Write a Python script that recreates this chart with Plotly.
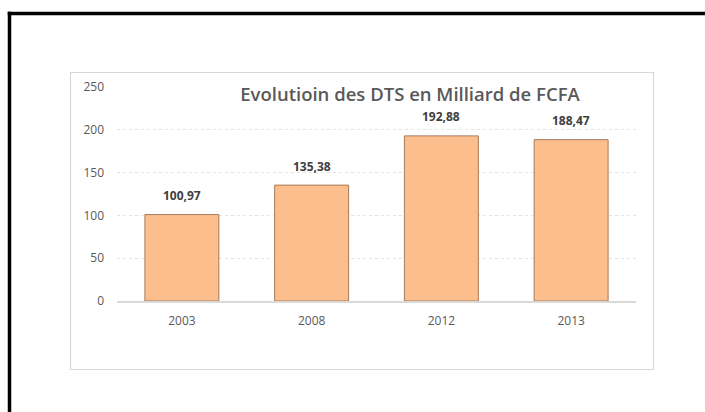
import plotly.graph_objects as go

categories = ["2003", "2008", "2012", "2013"]
values = [100.97, 135.38, 192.88, 188.47]
y_ticks = [0, 50, 100, 150, 200, 250]
title_text = "Evolutioin des DTS en Milliard de FCFA"

labels = [f"{v:.2f}".replace(".", ",") for v in values]

W, H = 705, 412
L, R, T, B = 117, 69, 87, 111
pw, ph = W - L - R, H - T - B

def px(x):
    return (x - L) / pw

def py(y):
    return (H - B - y) / ph

fig = go.Figure()
fig.add_trace(go.Bar(
    x=categories, y=values, width=0.57,
    marker=dict(color="#FCBE8D", line=dict(color="#A87A58", width=1)),
    hoverinfo="skip",
))

for i, (v, t) in enumerate(zip(values, labels)):
    fig.add_annotation(x=i, y=v, text=f"<b>{t}</b>", showarrow=False,
                       yanchor="middle", yshift=19,
                       font=dict(family="Open Sans", size=12, color="#404040"))

frame = dict(color="black", width=3.5)
shapes = [
    # outer black frame: left and top edges (others are cropped in the reference)
    dict(type="line", xref="paper", yref="paper",
         x0=px(9.5), x1=px(9.5), y0=py(11.75), y1=py(412), line=frame, layer="below"),
    dict(type="line", xref="paper", yref="paper",
         x0=px(7.75), x1=px(705), y0=py(13.5), y1=py(13.5), line=frame, layer="below"),
    # inner chart box
    dict(type="rect", xref="paper", yref="paper",
         x0=px(70.5), x1=px(653.5), y0=py(72.5), y1=py(369.5),
         line=dict(color="#D9D9D9", width=1.2), fillcolor="rgba(0,0,0,0)", layer="below"),
]

fig.update_layout(
    width=W, height=H,
    margin=dict(l=L, r=R, t=T, b=B),
    paper_bgcolor="white", plot_bgcolor="white",
    showlegend=False,
    shapes=shapes,
    title=dict(text=title_text, xref="paper", x=px(410), xanchor="center",
               yref="container", y=1 - 95 / H, yanchor="middle",
               font=dict(family="Open Sans", size=18.5, color="#595959", weight=600)),
    xaxis=dict(type="category", range=[-0.5, len(categories) - 0.5],
               showgrid=False, showline=True, linecolor="#D9D9D9", linewidth=1.5,
               tickfont=dict(family="Open Sans", size=12, color="#595959"),
               ticks="", ticklabelstandoff=8, fixedrange=True),
    yaxis=dict(range=[0, 250], tickvals=y_ticks, showgrid=True,
               gridcolor="#E3E3E3", griddash="dot", gridwidth=1,
               zeroline=False, showline=False,
               tickfont=dict(family="Open Sans", size=12, color="#595959"),
               ticks="", ticklabelstandoff=12, fixedrange=True),
)

fig.write_html("out.html", config={"displayModeBar": False},
               post_script="document.body.style.margin='0';document.body.style.overflow='hidden';")
